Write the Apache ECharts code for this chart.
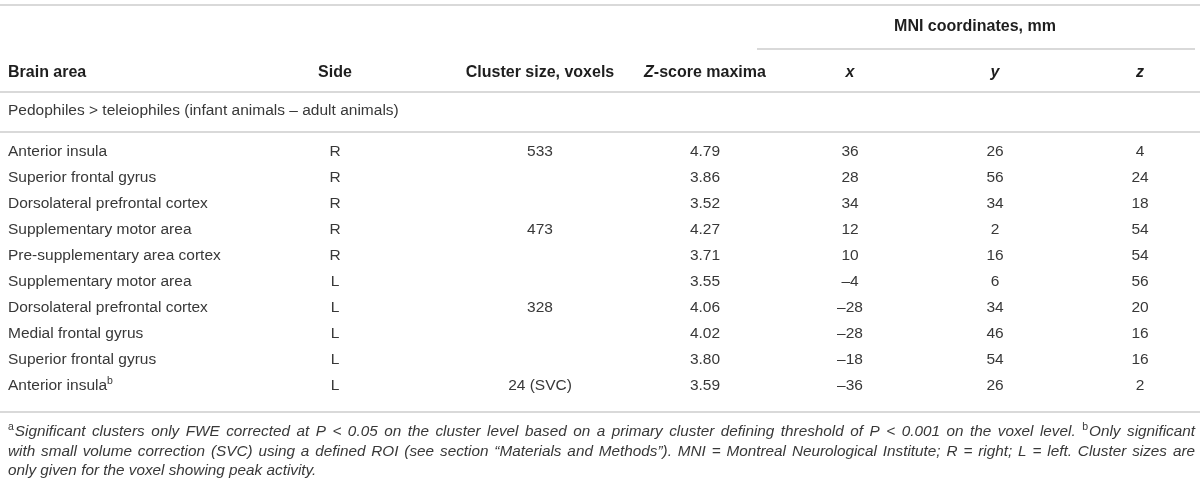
<!DOCTYPE html>
<html>
<head>
<meta charset="utf-8">
<script src="https://cdn.jsdelivr.net/npm/echarts@6/dist/echarts.min.js"></script>
<style>
html, body { margin: 0; padding: 0; background: #fff; }
#main { width: 1200px; height: 488px; }
</style>
</head>
<body>
<div id="main"></div>
<script>
// table content
var columns = ['Brain area', 'Side', 'Cluster size, voxels', 'Z-score maxima', 'x', 'y', 'z'];
var groupLabel = 'Pedophiles > teleiophiles (infant animals \u2013 adult animals)';
var brainAreas = ['Anterior insula', 'Superior frontal gyrus', 'Dorsolateral prefrontal cortex',
    'Supplementary motor area', 'Pre-supplementary area cortex', 'Supplementary motor area',
    'Dorsolateral prefrontal cortex', 'Medial frontal gyrus', 'Superior frontal gyrus', 'Anterior insula'];
var areaNotes = ['', '', '', '', '', '', '', '', '', 'b'];
var sides = ['R', 'R', 'R', 'R', 'R', 'L', 'L', 'L', 'L', 'L'];
var clusterSizes = ['533', '', '', '473', '', '', '328', '', '', '24 (SVC)'];
var zScores = [4.79, 3.86, 3.52, 4.27, 3.71, 3.55, 4.06, 4.02, 3.80, 3.59];
var mniX = [36, 28, 34, 12, 10, -4, -28, -28, -18, -36];
var mniY = [26, 56, 34, 2, 16, 6, 34, 46, 54, 26];
var mniZ = [4, 24, 18, 54, 54, 56, 20, 16, 16, 2];
// ^a / ^b mark a superscript note letter in front of a word
var footnotes = [
    '^aSignificant clusters only FWE corrected at P < 0.05 on the cluster level based on a primary cluster defining threshold of P < 0.001 on the voxel level. ^bOnly significant',
    'with small volume correction (SVC) using a defined ROI (see section \u201cMaterials and Methods\u201d). MNI = Montreal Neurological Institute; R = right; L = left. Cluster sizes are',
    'only given for the voxel showing peak activity.'
];
var justified = [true, true, false];

// layout (page pixels)
var colX = [8, 335, 540, 705, 850, 995, 1140];
var colAlign = ['left', 'center', 'center', 'center', 'center', 'center', 'center'];
var mniHeadX = 975, mniLineX = [757, 1195];
var rowMni = 27, rowHead = 73, rowGroup = 111, rowFirst = 152, rowStep = 26;
var noteRows = [432, 452, 471];
var noteLeft = 8, noteRight = 1195;
var ruleY = [5, 92, 132, 412];

var FONT = '"Liberation Sans", Arial, sans-serif';
var INK = '#383838';
var HEAD = '#1e1e1e';
var RULE = '#d9d9d9';
var FS = 15.5, HFS = 16, NFS = 15.3, SFS = 10.5;

function dash(v) { return v < 0 ? '\u2013' + Math.abs(v) : String(v); }

var rich = {
    n: { fontFamily: FONT, fontSize: FS, fill: INK },
    b: { fontFamily: FONT, fontSize: HFS, fontWeight: 'bold', fill: HEAD },
    bi: { fontFamily: FONT, fontSize: HFS, fontWeight: 'bold', fontStyle: 'italic', fill: HEAD },
    i: { fontFamily: FONT, fontSize: NFS, fontStyle: 'italic', fill: INK },
    sup: { fontFamily: FONT, fontSize: SFS, fill: INK, padding: [0, 1, 9, 0] }
};

// build cells
var cells = [];
function addCell(x, y, text, align) { cells.push({ value: [x, y], text: text, align: align }); }

addCell(mniHeadX, rowMni, '{b|MNI coordinates, mm}', 'center');
columns.forEach(function (c, i) {
    var t;
    if (i === 3) t = '{bi|Z}{b|-score maxima}';
    else if (i >= 4) t = '{bi|' + c + '}';
    else t = '{b|' + c + '}';
    addCell(colX[i], rowHead, t, colAlign[i]);
});
addCell(colX[0], rowGroup, '{n|' + groupLabel + '}', 'left');
brainAreas.forEach(function (a, r) {
    var y = rowFirst + r * rowStep;
    var row = [
        '{n|' + a + '}' + (areaNotes[r] ? '{sup|' + areaNotes[r] + '}' : ''),
        '{n|' + sides[r] + '}',
        '{n|' + clusterSizes[r] + '}',
        '{n|' + zScores[r].toFixed(2) + '}',
        '{n|' + dash(mniX[r]) + '}',
        '{n|' + dash(mniY[r]) + '}',
        '{n|' + dash(mniZ[r]) + '}'
    ];
    row.forEach(function (t, c) { addCell(colX[c], y, t, colAlign[c]); });
});

// footnotes: justify the first two lines word by word
var ctx = document.createElement('canvas').getContext('2d');
function measure(txt, size) {
    ctx.font = 'italic ' + size + 'px ' + FONT;
    return ctx.measureText(txt).width;
}
footnotes.forEach(function (line, k) {
    var words = line.split(' ').map(function (w) {
        var sup = '';
        if (w.charAt(0) === '^') { sup = w.charAt(1); w = w.slice(2); }
        var width = measure(w, NFS) + (sup ? measure(sup, SFS) + 1 : 0);
        var t = (sup ? '{sup|' + sup + '}' : '') + '{i|' + w + '}';
        return { t: t, w: width };
    });
    var sum = words.reduce(function (s, w) { return s + w.w; }, 0);
    var gap = justified[k] ? (noteRight - noteLeft - sum) / (words.length - 1) : measure(' ', NFS);
    var x = noteLeft;
    words.forEach(function (w) {
        addCell(x, noteRows[k], w.t, 'left');
        x += w.w + gap;
    });
});

// horizontal rules
var rules = ruleY.map(function (y) { return [0, y, 1200]; });
rules.push([mniLineX[0], 49, mniLineX[1]]);

var chart = echarts.init(document.getElementById('main'), null, { renderer: 'canvas' });
chart.setOption({
    animation: false,
    backgroundColor: '#fff',
    grid: { left: 0, right: 0, top: 0, bottom: 0 },
    xAxis: { type: 'value', min: 0, max: 1200, show: false },
    yAxis: { type: 'value', min: 0, max: 488, inverse: true, show: false },
    series: [
        {
            type: 'custom',
            clip: false,
            silent: true,
            data: rules,
            renderItem: function (params, api) {
                var a = api.coord([api.value(0), api.value(1)]);
                var b = api.coord([api.value(2), api.value(1)]);
                return {
                    type: 'line',
                    shape: { x1: a[0], y1: a[1], x2: b[0], y2: b[1] },
                    style: { stroke: RULE, lineWidth: 2 }
                };
            }
        },
        {
            type: 'custom',
            clip: false,
            silent: true,
            data: cells.map(function (c) { return c.value; }),
            renderItem: function (params, api) {
                var cell = cells[params.dataIndex];
                var p = api.coord([api.value(0), api.value(1)]);
                return {
                    type: 'text',
                    x: p[0],
                    y: p[1],
                    style: {
                        text: cell.text,
                        rich: rich,
                        align: cell.align,
                        verticalAlign: 'middle',
                        fontFamily: FONT,
                        fontSize: FS,
                        fill: INK
                    }
                };
            }
        }
    ]
});
</script>
</body>
</html>
